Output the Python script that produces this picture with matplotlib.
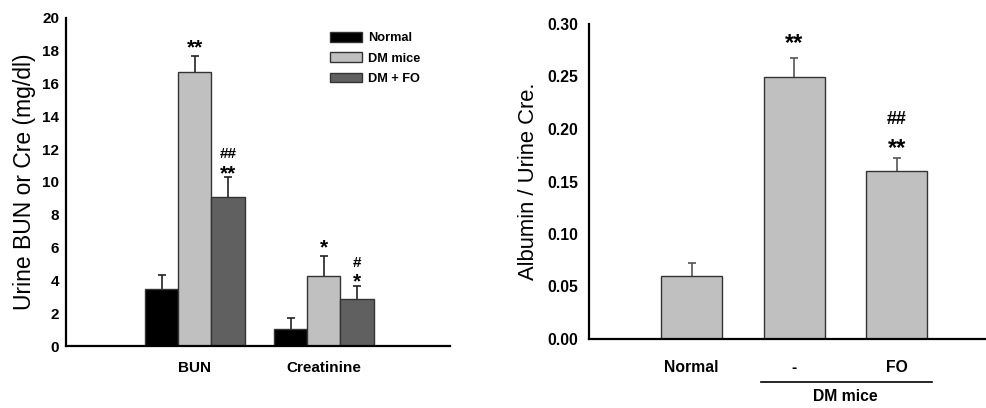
import matplotlib.pyplot as plt
import numpy as np

plt.rcParams['font.family'] = ['Liberation Sans', 'DejaVu Sans']

# left panel: urine BUN / creatinine
groups = ['BUN', 'Creatinine']
series = ['Normal', 'DM mice', 'DM + FO']
vals = [[3.5, 16.7, 9.1],
        [1.05, 4.27, 2.88]]
errs = [[0.8, 1.0, 1.2],
        [0.65, 1.2, 0.8]]
marks_top = [['', '', '##'], ['', '', '#']]
marks_low = [['', '**', '**'], ['', '*', '*']]
yticks_left = [0, 2, 4, 6, 8, 10, 12, 14, 16, 18, 20]

# right panel: albumin / urine creatinine
cats_right = ['Normal', '-', 'FO']
vals_right = [0.06, 0.25, 0.16]
errs_right = [0.012, 0.018, 0.012]
marks_right_top = ['', '', '##']
marks_right_low = ['', '**', '**']
yticks_right = [0.00, 0.05, 0.10, 0.15, 0.20, 0.25, 0.30]

colors = ['#000000', '#c0c0c0', '#606060']
edge = '#333333'


def up_errorbar(ax, x, v, e, color):
    eb = ax.errorbar(x, v, yerr=[np.zeros(len(e)), e], fmt='none', ecolor=color,
                     elinewidth=1.2, capsize=3, capthick=1.2, zorder=1)
    eb[1][0].set_visible(False)  # hide lower cap


def mark(ax, text, x, y, off, fs, star):
    # place the glyph's visual centre 'off' points above y
    base = off - (0.57 if star else 0.35) * fs
    ax.annotate(text, (x, y), xytext=(0, base), textcoords='offset points',
                ha='center', va='baseline', fontsize=fs, fontweight='bold')


fig = plt.figure(figsize=(9.87, 4.08), dpi=100)

# ---- left
ax1 = fig.add_axes([66/987, 1-346/408, 384/987, 328/408])
w = 0.256
for i, s in enumerate(series):
    x = np.arange(1, len(groups)+1) + (i-1)*w
    v = [vals[g][i] for g in range(len(groups))]
    e = [errs[g][i] for g in range(len(groups))]
    ax1.bar(x, v, w, color=colors[i], edgecolor=edge, linewidth=1, label=s, zorder=2)
    up_errorbar(ax1, x, v, e, '#222222')
    for g in range(len(groups)):
        top = v[g] + e[g]
        two = bool(marks_top[g][i])
        if marks_low[g][i]:
            mark(ax1, marks_low[g][i], x[g], top, 7 if two else 10.5, 15, True)
        if two:
            mark(ax1, marks_top[g][i], x[g], top, 17.5, 11, False)

ax1.set_xlim(0, 2.977)
ax1.set_ylim(0, 20)
ax1.set_xticks(np.arange(1, len(groups)+1))
ax1.set_xticklabels(groups, fontsize=11, fontweight='bold')
ax1.set_yticks(yticks_left)
ax1.set_yticklabels([str(t) for t in yticks_left], fontsize=11, fontweight='bold')
ax1.tick_params(length=0, pad=5)
ax1.tick_params(axis='x', pad=11)
ax1.set_ylabel('Urine BUN or Cre (mg/dl)', fontsize=16.5, labelpad=4)
for sp in ['top', 'right']:
    ax1.spines[sp].set_visible(False)
for sp in ['left', 'bottom']:
    ax1.spines[sp].set_linewidth(1.6)
leg = ax1.legend(loc='upper left', bbox_to_anchor=(0.6875, 0.957), frameon=False,
                 prop={'weight': 'bold', 'size': 9.2}, handlelength=2.5, handleheight=0.8,
                 labelspacing=0.62, handletextpad=0.45, borderpad=0, borderaxespad=0)

# ---- right
ax2 = fig.add_axes([589/987, 1-339/408, 398/987, 315/408])
xr = np.arange(1, len(cats_right)+1)
ax2.bar(xr, vals_right, 0.595, color=colors[1], edgecolor=edge, linewidth=1, zorder=2)
up_errorbar(ax2, xr, vals_right, errs_right, '#555555')
for i in range(len(xr)):
    top = vals_right[i] + errs_right[i]
    two = bool(marks_right_top[i])
    if marks_right_low[i]:
        mark(ax2, marks_right_low[i], xr[i], top, 12 if two else 15, 17, True)
    if two:
        mark(ax2, marks_right_top[i], xr[i], top, 29.5, 13, False)
ax2.set_xlim(0, 3.88)
ax2.set_ylim(0, 0.30)
ax2.set_xticks(xr)
ax2.set_xticklabels(cats_right, fontsize=11.3, fontweight='bold')
ax2.set_yticks(yticks_right)
ax2.set_yticklabels(['%.2f' % t for t in yticks_right], fontsize=11.3, fontweight='bold')
ax2.tick_params(length=0, pad=8)
ax2.tick_params(axis='x', pad=15)
ax2.set_ylabel('Albumin / Urine Cre.', fontsize=15.8, labelpad=6)
for sp in ['top', 'right']:
    ax2.spines[sp].set_visible(False)
for sp in ['left', 'bottom']:
    ax2.spines[sp].set_linewidth(1.6)

# bracket under the DM mice groups
ax2.plot([1.678, 3.346], [-0.041, -0.041], color='black', lw=1.2, clip_on=False)
ax2.text(2.5, -0.0552, 'DM mice', ha='center', va='center', fontsize=11.3, fontweight='bold')

fig.savefig('out.png', dpi=100)
